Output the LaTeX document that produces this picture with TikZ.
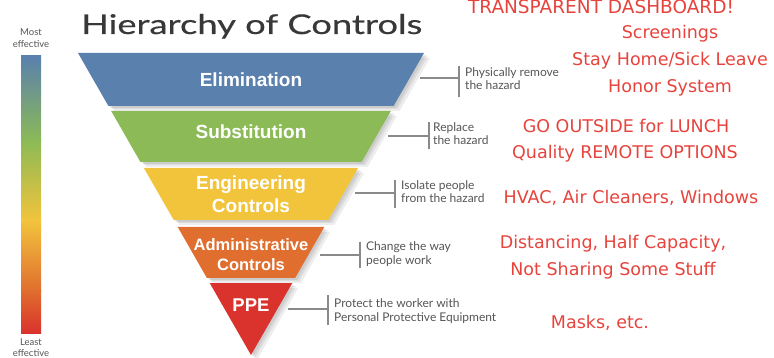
\documentclass[tikz,border=0pt]{standalone}
\usepackage{fontspec}
\usepackage{graphicx}
\newfontfamily\bandfont{Liberation Sans}
\newfontfamily\notefont{Lato}
\newfontfamily\titlefont{Lato}[FakeBold=0.4]
\newfontfamily\handfont{DejaVu Sans}
\definecolor{elimC}{HTML}{5A80AE}
\definecolor{substC}{HTML}{8BBA56}
\definecolor{engC}{HTML}{F2C43C}
\definecolor{adminC}{HTML}{E06E2E}
\definecolor{ppeC}{HTML}{DA332D}
\definecolor{noteC}{HTML}{555555}
\definecolor{lineC}{HTML}{8A8A8A}
\definecolor{handC}{HTML}{E6433C}
\definecolor{titleC}{HTML}{383838}
\tikzset{
  bandlabel/.style={text=white, font=\bandfont\bfseries\fontsize{19}{23}\selectfont, anchor=base, inner sep=0pt},
  smallband/.style={bandlabel, font=\bandfont\bfseries\fontsize{16.5}{20}\selectfont},
  note/.style={text=noteC, font=\notefont\fontsize{12}{14}\selectfont, anchor=base west, inner sep=0pt},
  effnote/.style={text=noteC, font=\notefont\fontsize{9.5}{11}\selectfont, anchor=base, inner sep=0pt},
  hand/.style={text=handC, font=\handfont\fontsize{17.5}{20}\selectfont, anchor=base, inner sep=0pt},
  callout/.style={draw=lineC, line width=1.1pt},
  bandshadow/.style={fill=black, opacity=0.07},
}
\begin{document}
\begin{tikzpicture}[x=1pt,y=-1pt]
\useasboundingbox (0,0) rectangle (774,358);

% ---------- effectiveness bar ----------
\shade[top color=elimC, bottom color=substC] (21,56) rectangle (41,141);
\shade[top color=substC, bottom color=engC] (21,140) rectangle (41,221);
\shade[top color=engC, bottom color=adminC] (21,220) rectangle (41,291);
\shade[top color=adminC, bottom color=ppeC] (21,290) rectangle (41,333);
\node[effnote] (most1) at (31,36) {Most};
\node[effnote] (most2) at (31,48) {effective};
\node[effnote] (least1) at (31,345) {Least};
\node[effnote] (least2) at (31,356.5) {effective};

% ---------- title ----------
\node[anchor=base west, inner sep=0pt, text=titleC] (title) at (81,34)
  {\resizebox{341pt}{20pt}{\titlefont\fontsize{26}{30}\selectfont Hierarchy of Controls}};

% ---------- shadows ----------
\foreach \dx/\dy in {2/2,4/3,6/5}{
  \fill[bandshadow, shift={(\dx,\dy)}] (78,53) -- (424,53) -- (393.6,106) -- (108.4,106) -- cycle;
  \fill[bandshadow, shift={(\dx,\dy)}] (111.2,111) -- (390.8,111) -- (361.6,162) -- (140.4,162) -- cycle;
  \fill[bandshadow, shift={(\dx,\dy)}] (143.9,168) -- (358.1,168) -- (328.3,220) -- (173.7,220) -- cycle;
  \fill[bandshadow, shift={(\dx,\dy)}] (177.7,227) -- (324.3,227) -- (295.1,278) -- (206.9,278) -- cycle;
  \fill[bandshadow, shift={(\dx,\dy)}] (209.7,283) -- (292.3,283) -- (251,355) -- cycle;
}

% ---------- bands ----------
\fill[elimC]  (78,53) -- (424,53) -- (393.6,106) -- (108.4,106) -- cycle;
\fill[substC] (111.2,111) -- (390.8,111) -- (361.6,162) -- (140.4,162) -- cycle;
\fill[engC]   (143.9,168) -- (358.1,168) -- (328.3,220) -- (173.7,220) -- cycle;
\fill[adminC] (177.7,227) -- (324.3,227) -- (295.1,278) -- (206.9,278) -- cycle;
\fill[ppeC]   (209.7,283) -- (292.3,283) -- (251,355) -- cycle;

\node[bandlabel] (elim) at (251,87) {Elimination};
\node[bandlabel] (subst) at (251,139) {Substitution};
\node[bandlabel] (eng1) at (251,190) {Engineering};
\node[bandlabel] (eng2) at (251,213) {Controls};
\node[smallband] (adm1) at (251,251) {Administrative};
\node[smallband] (adm2) at (251,270) {Controls};
\node[bandlabel, font=\bandfont\bfseries\fontsize{18.5}{22}\selectfont] (ppe) at (251,312) {PPE};

% ---------- callouts ----------
\coordinate (h1s) at (420,78);  \coordinate (h1e) at (459,78);
\coordinate (v1t) at (459,66);  \coordinate (v1b) at (459,97);
\coordinate (h2s) at (388,136); \coordinate (h2e) at (429,136);
\coordinate (v2t) at (429,122); \coordinate (v2b) at (429,149);
\coordinate (h3s) at (355,193); \coordinate (h3e) at (395,193);
\coordinate (v3t) at (395,180); \coordinate (v3b) at (395,208);
\coordinate (h4s) at (320,255); \coordinate (h4e) at (360,255);
\coordinate (v4t) at (360,242); \coordinate (v4b) at (360,268);
\coordinate (h5s) at (288,309); \coordinate (h5e) at (328,309);
\coordinate (v5t) at (328,295); \coordinate (v5b) at (328,325);
\foreach \i in {1,...,5}{
  \draw[callout] (h\i s) -- (h\i e);
  \draw[callout] (v\i t) -- (v\i b);
}
\node[note] (n1a) at (465,77) {Physically remove};
\node[note] (n1b) at (465,90) {the hazard};
\node[note] (n2a) at (433,132) {Replace};
\node[note] (n2b) at (433,145) {the hazard};
\node[note] (n3a) at (401,190) {Isolate people};
\node[note] (n3b) at (401,203) {from the hazard};
\node[note] (n4a) at (366,251) {Change the way};
\node[note] (n4b) at (366,265) {people work};
\node[note] (n5a) at (334,307) {Protect the worker with};
\node[note] (n5b) at (334,321) {Personal Protective Equipment};

% ---------- handwritten notes ----------
\node[hand, font=\handfont\fontsize{18.5}{20}\selectfont] (r0) at (601,14) {TRANSPARENT DASHBOARD!};
\node[hand] (r1) at (670,39) {Screenings};
\node[hand] (r2) at (670,66) {Stay Home/Sick Leave};
\node[hand] (r3) at (670,93) {Honor System};
\node[hand] (r4) at (626,133) {GO OUTSIDE for LUNCH};
\node[hand] (r5) at (625,159) {Quality REMOTE OPTIONS};
\node[hand] (r6) at (631,204) {HVAC, Air Cleaners, Windows};
\node[hand] (r7) at (613,249) {Distancing, Half Capacity,};
\node[hand] (r8) at (613,276) {Not Sharing Some Stuff};
\node[hand] (r9) at (600,328) {Masks, etc.};
\end{tikzpicture}
\end{document}
